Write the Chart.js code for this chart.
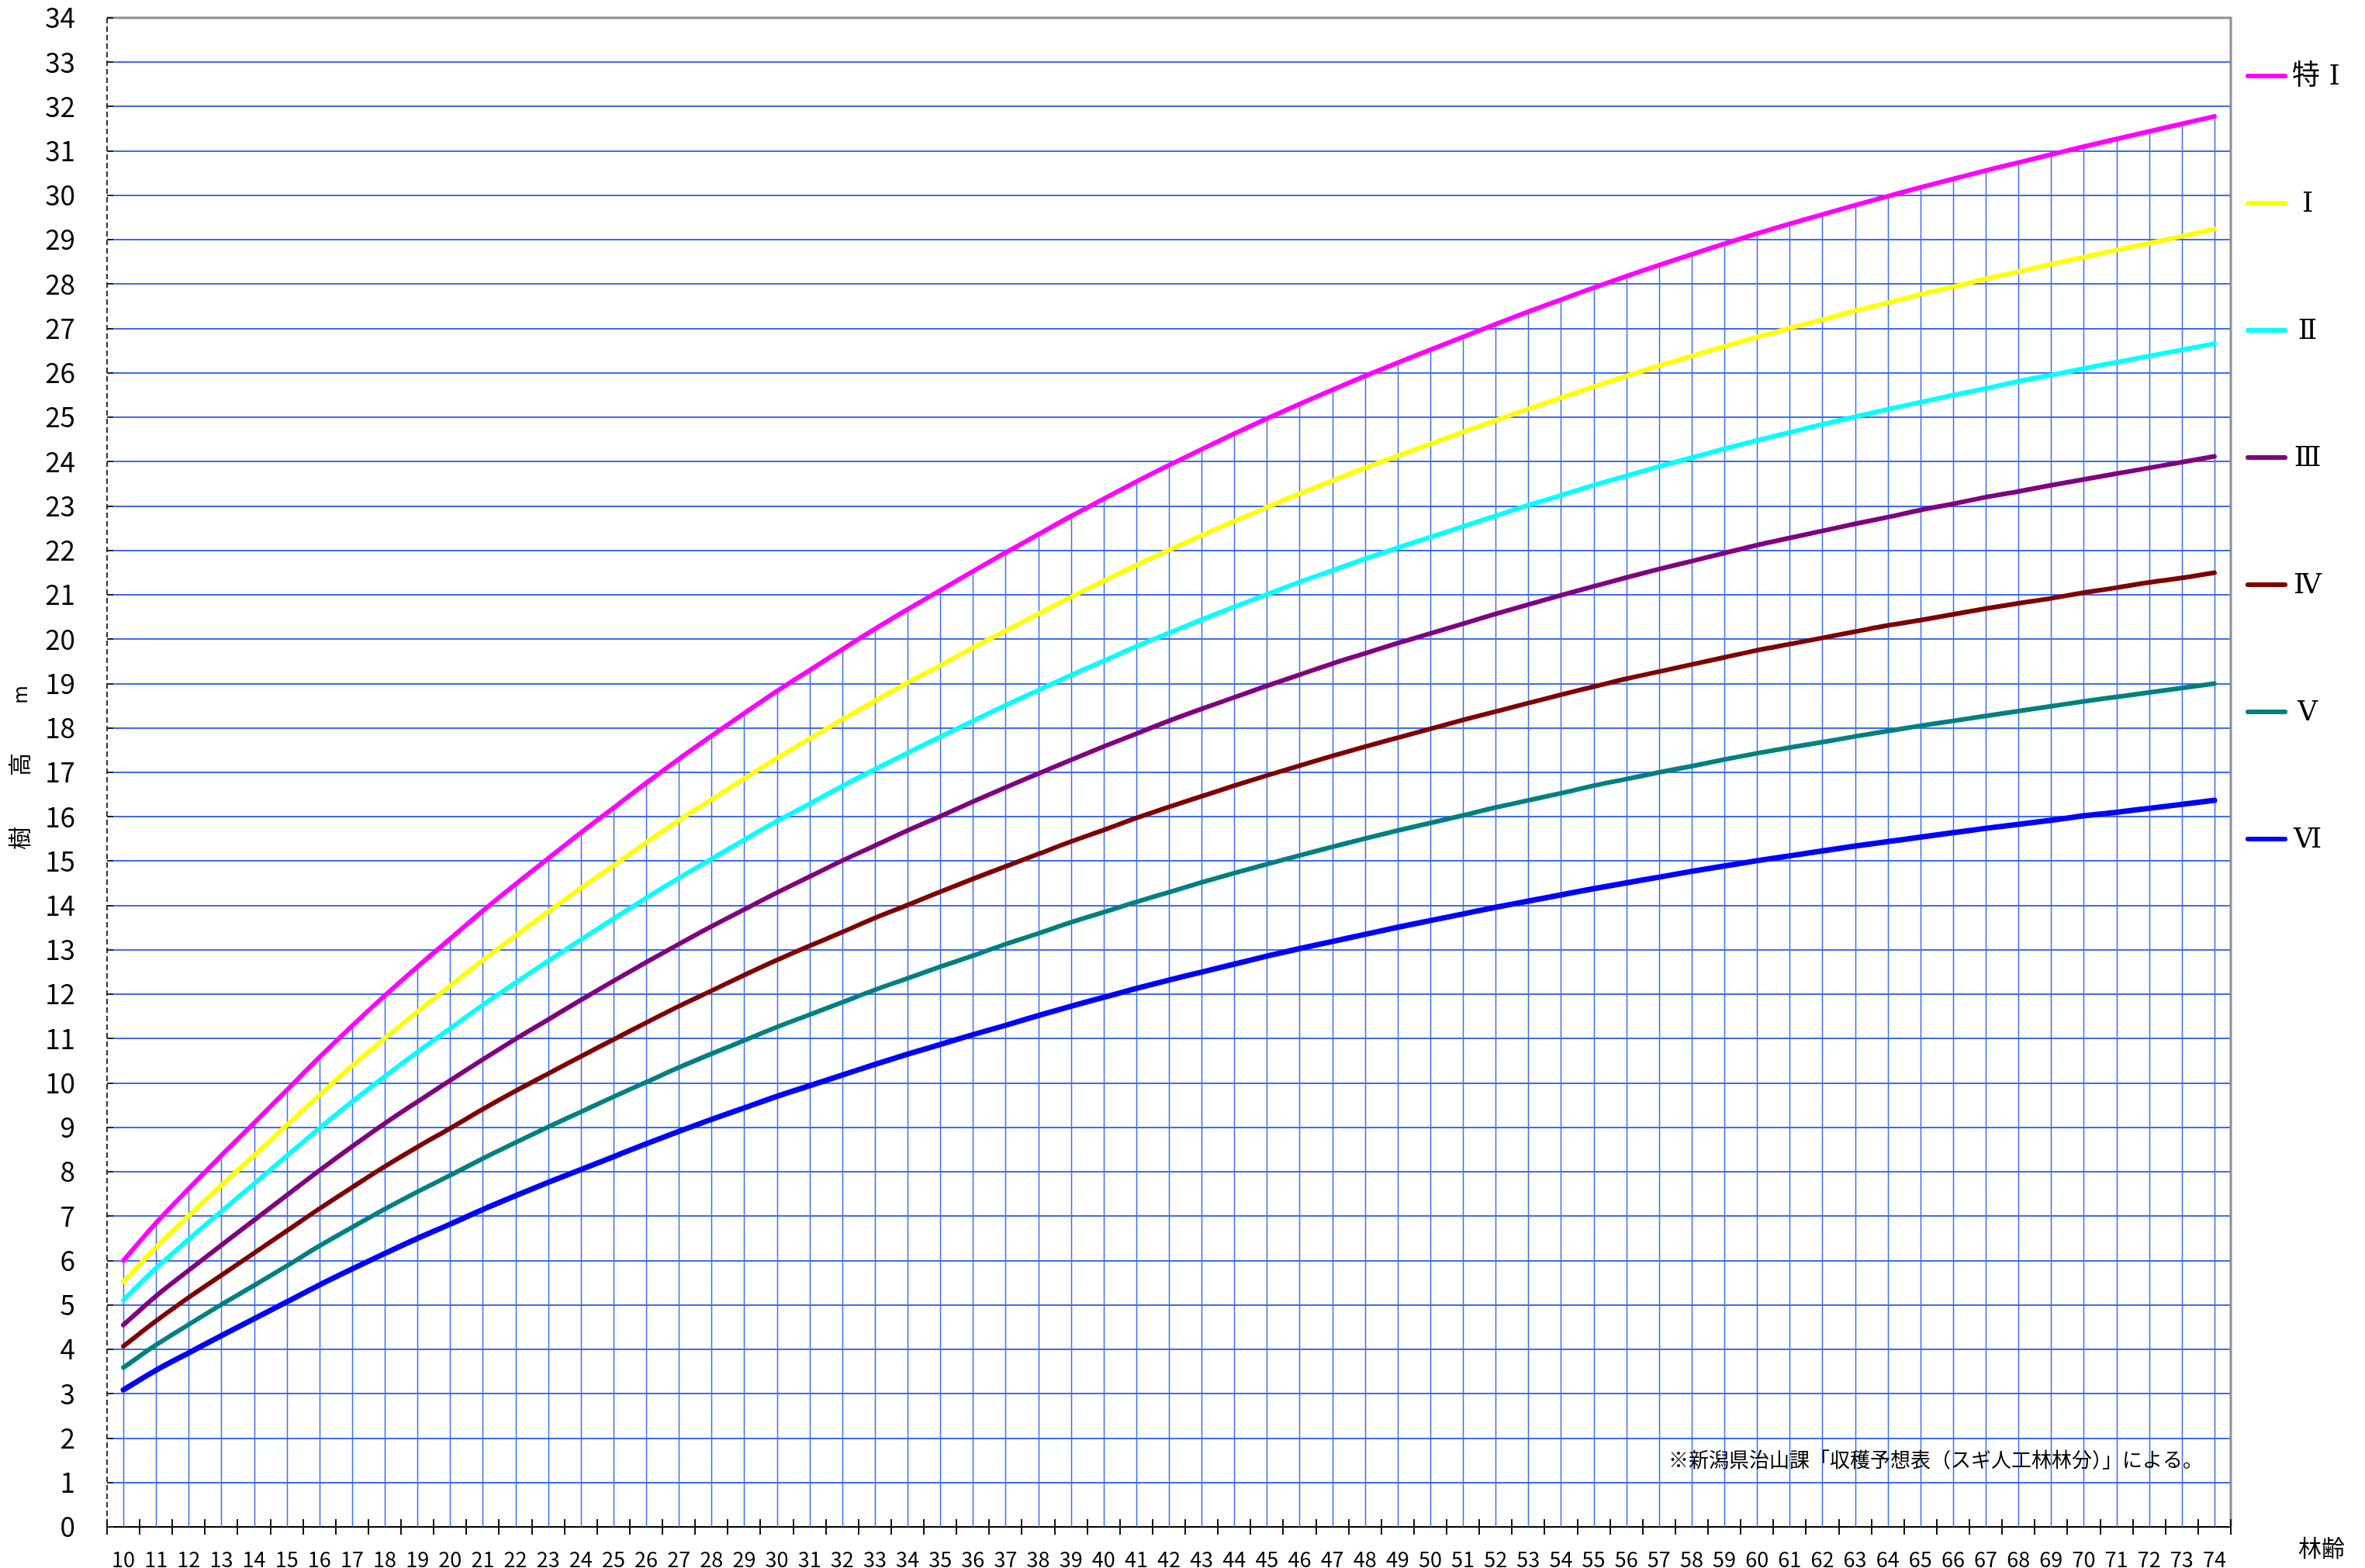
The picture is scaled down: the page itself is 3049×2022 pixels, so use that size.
<!DOCTYPE html>
<html lang="ja">
<head>
<meta charset="utf-8">
<title>スギ人工林 樹高成長曲線</title>
<script src="https://cdn.jsdelivr.net/npm/chart.js@4.4.1/dist/chart.umd.min.js"></script>
<style>
  html, body { margin: 0; padding: 0; background: #fff; }
  #wrap { width: 3049px; height: 2022px; }
</style>
</head>
<body>
<div id="wrap"><canvas id="heightChart" width="3049" height="2022"></canvas></div>
<script>
// 林齢 (横軸のカテゴリ)
const ages = ['10','11','12','13','14','15','16','17','18','19',
  '20','21','22','23','24','25','26','27','28','29',
  '30','31','32','33','34','35','36','37','38','39',
  '40','41','42','43','44','45','46','47','48','49',
  '50','51','52','53','54','55','56','57','58','59',
  '60','61','62','63','64','65','66','67','68','69',
  '70','71','72','73','74'];

// 地位級ごとの樹高 (m)
const heightTokuI = [6.00, 6.85, 7.62, 8.37, 9.10, 9.84, 10.58, 11.29, 11.97, 12.62,
  13.25, 13.88, 14.48, 15.06, 15.64, 16.20, 16.76, 17.30, 17.82, 18.33,
  18.83, 19.30, 19.77, 20.23, 20.67, 21.10, 21.53, 21.95, 22.36, 22.77,
  23.16, 23.55, 23.92, 24.28, 24.63, 24.97, 25.30, 25.62, 25.93, 26.23,
  26.52, 26.81, 27.10, 27.38, 27.65, 27.92, 28.18, 28.43, 28.67, 28.91,
  29.14, 29.36, 29.57, 29.78, 29.98, 30.18, 30.37, 30.56, 30.74, 30.92,
  31.10, 31.27, 31.44, 31.61, 31.78];
const heightI = [5.52, 6.30, 7.01, 7.70, 8.37, 9.05, 9.73, 10.39, 11.01, 11.61,
  12.19, 12.77, 13.32, 13.86, 14.39, 14.90, 15.42, 15.92, 16.39, 16.86,
  17.32, 17.76, 18.19, 18.61, 19.02, 19.41, 19.81, 20.19, 20.57, 20.95,
  21.31, 21.67, 22.01, 22.34, 22.66, 22.97, 23.28, 23.57, 23.86, 24.13,
  24.40, 24.67, 24.93, 25.19, 25.44, 25.69, 25.93, 26.16, 26.38, 26.60,
  26.81, 27.01, 27.20, 27.40, 27.58, 27.77, 27.94, 28.12, 28.28, 28.45,
  28.61, 28.77, 28.92, 29.08, 29.24];
const heightII = [5.11, 5.83, 6.48, 7.11, 7.73, 8.36, 8.98, 9.58, 10.15, 10.70,
  11.23, 11.76, 12.26, 12.75, 13.23, 13.70, 14.17, 14.62, 15.05, 15.48,
  15.90, 16.29, 16.69, 17.07, 17.44, 17.80, 18.16, 18.51, 18.85, 19.19,
  19.51, 19.84, 20.14, 20.44, 20.73, 21.01, 21.29, 21.55, 21.81, 22.06,
  22.30, 22.54, 22.78, 23.02, 23.24, 23.47, 23.68, 23.89, 24.09, 24.29,
  24.48, 24.66, 24.84, 25.01, 25.18, 25.34, 25.50, 25.65, 25.81, 25.95,
  26.10, 26.24, 26.38, 26.52, 26.66];
const heightIII = [4.55, 5.20, 5.78, 6.35, 6.91, 7.47, 8.03, 8.57, 9.09, 9.58,
  10.06, 10.53, 10.99, 11.43, 11.87, 12.30, 12.72, 13.13, 13.53, 13.91,
  14.29, 14.65, 15.01, 15.35, 15.69, 16.01, 16.34, 16.66, 16.97, 17.28,
  17.58, 17.87, 18.16, 18.43, 18.69, 18.95, 19.20, 19.45, 19.68, 19.91,
  20.13, 20.35, 20.57, 20.78, 20.99, 21.19, 21.39, 21.58, 21.76, 21.94,
  22.12, 22.28, 22.44, 22.60, 22.75, 22.91, 23.05, 23.20, 23.33, 23.47,
  23.60, 23.73, 23.86, 23.99, 24.12];
const heightIV = [4.07, 4.64, 5.17, 5.67, 6.17, 6.67, 7.17, 7.65, 8.12, 8.56,
  8.98, 9.41, 9.82, 10.21, 10.60, 10.98, 11.36, 11.73, 12.08, 12.43,
  12.77, 13.09, 13.40, 13.72, 14.01, 14.31, 14.60, 14.88, 15.16, 15.44,
  15.70, 15.97, 16.22, 16.46, 16.70, 16.93, 17.15, 17.37, 17.58, 17.78,
  17.98, 18.18, 18.37, 18.56, 18.75, 18.93, 19.11, 19.27, 19.43, 19.59,
  19.75, 19.89, 20.03, 20.17, 20.31, 20.43, 20.56, 20.69, 20.81, 20.92,
  21.05, 21.16, 21.28, 21.38, 21.50];
const heightV = [3.59, 4.10, 4.56, 5.01, 5.44, 5.88, 6.33, 6.75, 7.16, 7.55,
  7.92, 8.30, 8.66, 9.01, 9.35, 9.69, 10.02, 10.35, 10.66, 10.96,
  11.26, 11.54, 11.82, 12.10, 12.36, 12.62, 12.87, 13.13, 13.37, 13.62,
  13.85, 14.08, 14.30, 14.52, 14.73, 14.93, 15.13, 15.32, 15.51, 15.69,
  15.86, 16.03, 16.21, 16.37, 16.53, 16.70, 16.85, 17.00, 17.14, 17.29,
  17.43, 17.56, 17.68, 17.81, 17.93, 18.05, 18.16, 18.27, 18.38, 18.49,
  18.60, 18.70, 18.80, 18.90, 19.00];
const heightVI = [3.09, 3.53, 3.92, 4.31, 4.69, 5.07, 5.45, 5.81, 6.16, 6.50,
  6.82, 7.15, 7.46, 7.76, 8.05, 8.34, 8.63, 8.91, 9.18, 9.44,
  9.70, 9.94, 10.18, 10.42, 10.65, 10.87, 11.09, 11.30, 11.52, 11.73,
  11.93, 12.13, 12.32, 12.50, 12.68, 12.86, 13.03, 13.19, 13.35, 13.51,
  13.66, 13.81, 13.96, 14.10, 14.24, 14.38, 14.51, 14.64, 14.77, 14.89,
  15.01, 15.12, 15.23, 15.34, 15.44, 15.54, 15.64, 15.74, 15.83, 15.92,
  16.02, 16.10, 16.19, 16.28, 16.37];

// 凡例ラベルと線の色
const classNames = ['特 Ⅰ', 'Ⅰ', 'Ⅱ', 'Ⅲ', 'Ⅳ', 'Ⅴ', 'Ⅵ'];
const classColors = ['#FF00FF', '#FFFF00', '#00FFFF', '#800080', '#800000', '#008080', '#0000FF'];

// 縦軸の目盛り
const yMin = 0;
const yMax = 34;
const yStep = 1;

const GRID_BLUE = '#3D6BF5';
const JP_FONT = '"Noto Sans CJK JP", "Noto Sans", sans-serif';

// 罫線・凡例・注記などを描くプラグイン
const decorPlugin = {
    id: 'decor',
    beforeDatasetsDraw(chart) {
        const { ctx, chartArea: a, scales: { x, y } } = chart;
        ctx.save();

        // 特Ⅰの線から横軸への降下線
        ctx.strokeStyle = GRID_BLUE;
        ctx.lineWidth = 1.5;
        heightTokuI.forEach((v, i) => {
            const px = Math.round(x.getPixelForValue(i)) + 0.5;
            ctx.beginPath();
            ctx.moveTo(px, y.getPixelForValue(v));
            ctx.lineTo(px, a.bottom);
            ctx.stroke();
        });

        // 上辺・右辺の枠 (灰色)
        ctx.strokeStyle = '#8A8C98';
        ctx.lineWidth = 3;
        ctx.beginPath();
        ctx.moveTo(a.left, a.top);
        ctx.lineTo(a.right, a.top);
        ctx.lineTo(a.right, a.bottom);
        ctx.stroke();

        // 縦軸 (破線)
        ctx.strokeStyle = '#333';
        ctx.lineWidth = 2;
        ctx.setLineDash([7, 4]);
        ctx.beginPath();
        ctx.moveTo(a.left, a.top);
        ctx.lineTo(a.left, a.bottom);
        ctx.stroke();
        ctx.setLineDash([]);

        // 縦軸の内向き目盛り
        ctx.strokeStyle = '#222';
        ctx.lineWidth = 2;
        for (let v = yMin; v <= yMax; v += yStep) {
            const py = Math.round(y.getPixelForValue(v));
            ctx.beginPath();
            ctx.moveTo(a.left, py);
            ctx.lineTo(a.left + 8, py);
            ctx.stroke();
        }

        // 横軸の十字目盛り (カテゴリの境界)
        ctx.strokeStyle = '#111';
        ctx.lineWidth = 2;
        const half = (x.getPixelForValue(1) - x.getPixelForValue(0)) / 2;
        for (let i = 0; i <= ages.length; i++) {
            const px = Math.round(x.getPixelForValue(i) - half);
            ctx.beginPath();
            ctx.moveTo(px, a.bottom - 10);
            ctx.lineTo(px, a.bottom + 10);
            ctx.stroke();
        }
        ctx.restore();
    },
    afterDraw(chart) {
        const { ctx } = chart;
        ctx.save();

        // 凡例 (右側に縦並び)
        chart.data.datasets.forEach((ds, i) => {
            const ly = 98 + i * 164;
            ctx.strokeStyle = ds.borderColor;
            ctx.lineWidth = 6;
            ctx.lineCap = 'round';
            ctx.beginPath();
            ctx.moveTo(2898, ly);
            ctx.lineTo(2946, ly);
            ctx.stroke();

            ctx.fillStyle = '#000';
            ctx.font = '36px "DejaVu Serif", ' + JP_FONT;
            ctx.textBaseline = 'middle';
            if (i === 0) {
                ctx.textAlign = 'left';
                ctx.fillText(ds.label, 2955, ly + 2);
            } else {
                ctx.textAlign = 'center';
                ctx.fillText(ds.label, 2975, ly + 2);
            }
        });

        // 縦軸タイトル (回転文字)
        ctx.fillStyle = '#000';
        ctx.textAlign = 'center';
        ctx.textBaseline = 'middle';
        [['樹', 1081], ['高', 986], ['m', 896]].forEach(([ch, cy]) => {
            ctx.save();
            ctx.translate(25, cy);
            ctx.rotate(-Math.PI / 2);
            ctx.font = (ch === 'm' ? '26px ' : '30px ') + JP_FONT;
            ctx.fillText(ch, 0, 0);
            ctx.restore();
        });

        // 横軸タイトル
        ctx.font = '30px ' + JP_FONT;
        ctx.fillText('林齢', 2993, 1996);

        // 出典注記
        ctx.textAlign = 'left';
        ctx.font = '26px ' + JP_FONT;
        ctx.fillText('※新潟県治山課「収穫予想表（スギ人工林林分）」による。', 2151, 1882);
        ctx.restore();
    }
};

const seriesData = [heightTokuI, heightI, heightII, heightIII, heightIV, heightV, heightVI];

const datasets = seriesData.map((values, i) => ({
    label: classNames[i],
    data: values,
    borderColor: classColors[i],
    backgroundColor: classColors[i],
    borderWidth: i === 6 ? 7 : 6,
    borderCapStyle: 'round',
    borderJoinStyle: 'round',
    pointRadius: 0,
    cubicInterpolationMode: 'monotone',
    fill: false
}));

const ctx = document.getElementById('heightChart').getContext('2d');
new Chart(ctx, {
    type: 'line',
    data: { labels: ages, datasets: datasets },
    options: {
        responsive: false,
        animation: false,
        devicePixelRatio: 1,
        layout: { padding: { top: 23, right: 173, left: 0, bottom: 0 } },
        plugins: {
            legend: { display: false },
            tooltip: { enabled: false }
        },
        scales: {
            x: {
                type: 'category',
                offset: true,
                grid: { display: false },
                border: { display: true, color: '#000', width: 2 },
                ticks: {
                    autoSkip: false,
                    maxRotation: 0,
                    minRotation: 0,
                    padding: 18,
                    color: '#000',
                    font: { family: JP_FONT, size: 27 }
                },
                afterFit(scale) {
                    scale.height = 53;
                    scale.paddingLeft = 0;
                    scale.paddingRight = 0;
                }
            },
            y: {
                min: yMin,
                max: yMax,
                grid: {
                    drawTicks: false,
                    lineWidth: 2,
                    color: (c) => (c.tick && c.tick.value === yMax) ? 'rgba(0,0,0,0)' : GRID_BLUE
                },
                border: { display: false },
                ticks: {
                    stepSize: yStep,
                    padding: 41,
                    color: '#000',
                    font: { family: JP_FONT, size: 35 }
                },
                afterFit(scale) {
                    scale.width = 138;
                    scale.paddingTop = 0;
                    scale.paddingBottom = 0;
                }
            }
        }
    },
    plugins: [decorPlugin]
});
</script>
</body>
</html>
